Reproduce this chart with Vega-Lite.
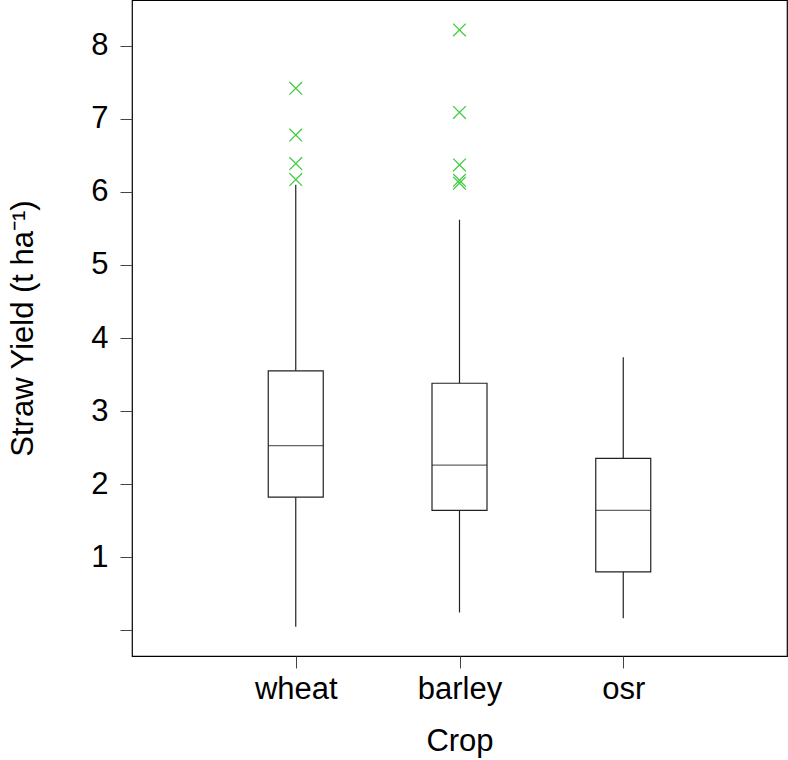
{
  "$schema": "https://vega.github.io/schema/vega-lite/v6.json",
  "width": 655,
  "height": 656,
  "autosize": "none",
  "padding": {"left": 132, "top": 0, "right": 1, "bottom": 104},
  "background": "white",
  "config": {
    "font": "Liberation Sans",
    "view": {"stroke": "black", "strokeWidth": 1.2},
    "axis": {
      "grid": false,
      "domain": false,
      "labelFont": "Liberation Sans",
      "titleFont": "Liberation Sans",
      "labelFontSize": 31,
      "titleFontSize": 31,
      "titleFontWeight": "normal",
      "labelColor": "black",
      "titleColor": "black",
      "tickColor": "#444444",
      "tickSize": 12,
      "tickWidth": 1
    }
  },
  "datasets": {
    "boxes": [
      {"crop": "wheat", "low": 0.045, "q1": 1.82, "median": 2.525, "q3": 3.55, "high": 6.10},
      {"crop": "barley", "low": 0.24, "q1": 1.64, "median": 2.26, "q3": 3.38, "high": 5.62},
      {"crop": "osr", "low": 0.16, "q1": 0.795, "median": 1.64, "q3": 2.35, "high": 3.735}
    ],
    "outliers": [
      {"crop": "wheat", "value": 7.42},
      {"crop": "wheat", "value": 6.78},
      {"crop": "wheat", "value": 6.39},
      {"crop": "wheat", "value": 6.17},
      {"crop": "barley", "value": 8.22},
      {"crop": "barley", "value": 7.09},
      {"crop": "barley", "value": 6.37},
      {"crop": "barley", "value": 6.16},
      {"crop": "barley", "value": 6.12}
    ]
  },
  "layer": [
    {
      "data": {"name": "boxes"},
      "mark": {"type": "rule", "color": "#222222", "strokeWidth": 1.2},
      "encoding": {
        "x": {
          "field": "crop",
          "type": "nominal",
          "sort": ["wheat", "barley", "osr"],
          "scale": {"type": "point", "padding": 1, "domain": ["wheat", "barley", "osr"]},
          "title": "Crop",
          "axis": {"labelAngle": 0, "labelPadding": 6, "titlePadding": 22}
        },
        "y": {
          "field": "low",
          "type": "quantitative",
          "scale": {"domain": [-0.356, 8.63], "nice": false, "zero": false},
          "title": "Straw Yield (t ha⁻¹)",
          "axis": {
            "values": [0, 1, 2, 3, 4, 5, 6, 7, 8],
            "format": "d",
            "labelExpr": "datum.value == 0 ? '' : datum.label",
            "labelPadding": 12,
            "titlePadding": 51
          }
        },
        "y2": {"field": "high"}
      }
    },
    {
      "data": {"name": "boxes"},
      "mark": {"type": "bar", "fill": "white", "stroke": "#222222", "strokeWidth": 1.2, "width": 55},
      "encoding": {
        "x": {"field": "crop", "type": "nominal", "sort": ["wheat", "barley", "osr"], "title": "Crop"},
        "y": {"field": "q1", "type": "quantitative", "title": "Straw Yield (t ha⁻¹)"},
        "y2": {"field": "q3"}
      }
    },
    {
      "data": {"name": "boxes"},
      "mark": {"type": "tick", "color": "#222222", "size": 55, "thickness": 1.2, "orient": "horizontal"},
      "encoding": {
        "x": {"field": "crop", "type": "nominal", "sort": ["wheat", "barley", "osr"], "title": "Crop"},
        "y": {"field": "median", "type": "quantitative", "title": "Straw Yield (t ha⁻¹)"}
      }
    },
    {
      "data": {"name": "outliers"},
      "mark": {
        "type": "point",
        "shape": "M-1,-1L1,1M-1,1L1,-1",
        "size": 160,
        "filled": false,
        "stroke": "#3fcc3f",
        "strokeWidth": 1.3,
        "opacity": 1
      },
      "encoding": {
        "x": {"field": "crop", "type": "nominal", "sort": ["wheat", "barley", "osr"], "title": "Crop"},
        "y": {"field": "value", "type": "quantitative", "title": "Straw Yield (t ha⁻¹)"}
      }
    }
  ]
}
